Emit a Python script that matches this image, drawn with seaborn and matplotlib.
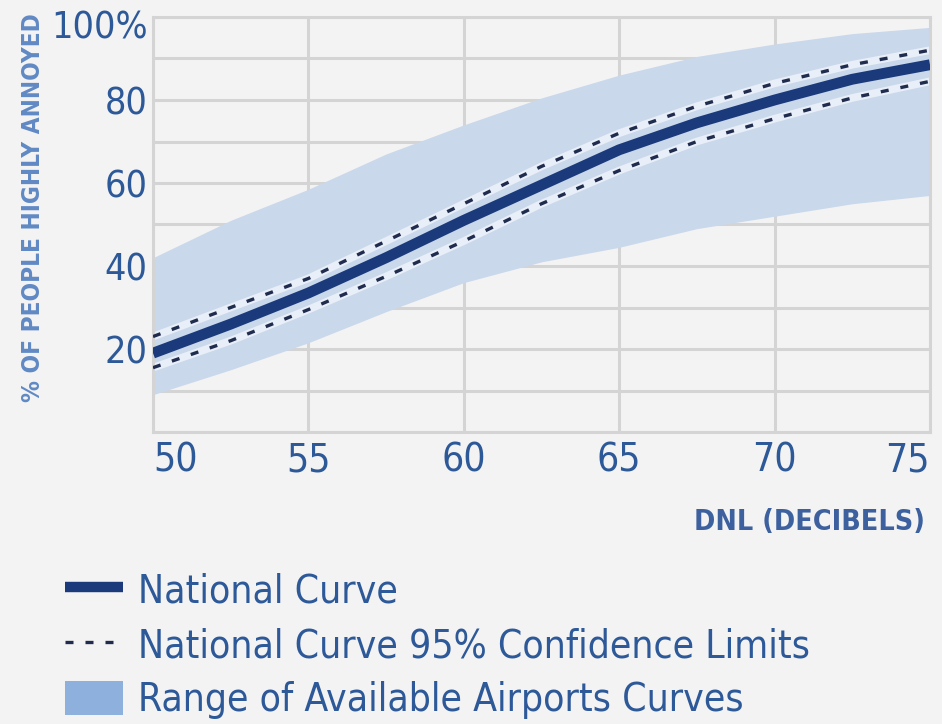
import matplotlib
matplotlib.use("Agg")
import matplotlib.pyplot as plt
from matplotlib.lines import Line2D
from matplotlib.patches import Patch
from matplotlib import font_manager as fm
import seaborn as sns
import pandas as pd

# ---- data ----
dnl = [50, 52.5, 55, 57.5, 60, 62.5, 65, 67.5, 70, 72.5, 75]
national = [19, 26, 33.5, 42, 51, 59.5, 68, 74.5, 80, 85, 88.5]
ci_upper = [23, 30, 37, 46, 55, 64, 72, 78.5, 84, 88.5, 92]
ci_lower = [15.5, 22, 29.5, 37.5, 46, 55, 63, 70, 75.5, 80.5, 84.5]
band_upper = [42, 51, 58.5, 67, 74, 80.5, 86, 90.5, 93.5, 96, 97.5]
band_lower = [9, 15, 21.5, 29, 36, 41, 44.5, 49, 52, 55, 57]

x_ticks = [50, 55, 60, 65, 70, 75]
y_ticks = [20, 40, 60, 80, 100]
y_tick_labels = ["20", "40", "60", "80", "100%"]
legend_labels = ["National Curve", "National Curve 95% Confidence Limits",
                 "Range of Available Airports Curves"]
x_title = "DNL (DECIBELS)"
y_title = "% OF PEOPLE HIGHLY ANNOYED"

df = pd.DataFrame({"dnl": dnl, "national": national, "ci_upper": ci_upper,
                   "ci_lower": ci_lower, "band_upper": band_upper, "band_lower": band_lower})

sns.set_theme(style="whitegrid")
plt.rcParams["font.family"] = ["DejaVu Sans"]
FONT = dict(family="DejaVu Sans", stretch="condensed")

BG = "#f3f3f3"
GRID = "#d4d4d4"
BAND = "#cad8eb"
NAVY = "#1b3a7c"
DASH = "#1f2c4e"
TXT = "#2d5999"
YT = "#6089c4"

fig = plt.figure(figsize=(9.42, 7.24), dpi=100, facecolor=BG)
ax = fig.add_axes([153 / 942, 1 - 432 / 724, (930 - 153) / 942, (432 - 17) / 724])
ax.set_facecolor(BG)

ax.fill_between(df["dnl"], df["band_lower"], df["band_upper"], color=BAND, lw=0, zorder=1)

for col in ["ci_upper", "ci_lower"]:
    sns.lineplot(data=df, x="dnl", y=col, ax=ax, color="#e9eff8", lw=5.5, zorder=2)
    sns.lineplot(data=df, x="dnl", y=col, ax=ax, color=DASH, lw=2.4, zorder=3,
                 dashes=False, linestyle=(0, (2.4, 3.6)))
sns.lineplot(data=df, x="dnl", y="national", ax=ax, color=NAVY, lw=7.8, zorder=4,
             solid_capstyle="butt")

ax.set_xlim(50, 75)
ax.set_ylim(0, 100)
ax.set_xticks(x_ticks)
ax.set_yticks(list(range(0, 101, 10)))
ax.set_yticklabels([""] * 11)
ax.grid(True, color=GRID, lw=2.2, zorder=0)
ax.set_axisbelow(True)
for s in ax.spines.values():
    s.set_color(GRID)
    s.set_linewidth(2.2)
ax.tick_params(length=0)
ax.set_xlabel("")
ax.set_ylabel("")
ax.set_xticklabels([""] * len(x_ticks))

for v, lab in zip(y_ticks, y_tick_labels):
    off = -3 if v < 100 else -8
    ax.annotate(lab, xy=(0, v), xycoords=("axes fraction", "data"),
                xytext=(-4, off), textcoords="offset points",
                ha="right", va="center", fontsize=27, color=TXT, **FONT)
for i, v in enumerate(x_ticks):
    ha = "left" if i == 0 else ("right" if i == len(x_ticks) - 1 else "center")
    ax.annotate(str(v), xy=(v, 0), xycoords=("data", "axes fraction"),
                xytext=(0, -7), textcoords="offset points",
                ha=ha, va="top", fontsize=28, color=TXT, **FONT)

fig.text(925 / 942, 1 - 522 / 724, x_title, ha="right", va="center",
         fontsize=20.5, color="#3d619e", fontweight="bold", **FONT)
fig.text(33 / 942, 1 - 208 / 724, y_title, ha="center", va="center", rotation=90,
         fontsize=17.5, color=YT, fontweight="bold", **FONT)

handles = [Line2D([], [], color=NAVY, lw=7.5, solid_capstyle="butt"),
           Line2D([], [], color=DASH, lw=2.4, linestyle=(0, (2.4, 3.6))),
           Patch(facecolor="#8db0dd", edgecolor="none")]
leg = fig.legend(handles, legend_labels, loc="upper left",
                 bbox_to_anchor=(30 / 942, 1 - 537 / 724), frameon=False,
                 prop=fm.FontProperties(size=28, **FONT),
                 handlelength=1.5, handletextpad=0.38,
                 labelspacing=0.4, handleheight=1.0)
for t in leg.get_texts():
    t.set_color(TXT)

fig.savefig("out.png", dpi=100, facecolor=BG)
